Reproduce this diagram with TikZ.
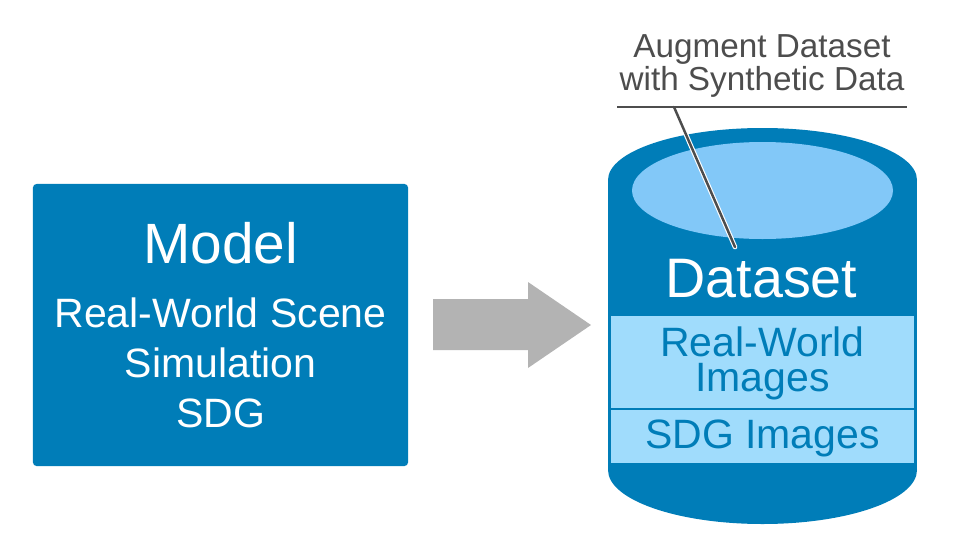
\documentclass[tikz,border=0pt]{standalone}
\usepackage{fontspec}
\setmainfont{Liberation Sans}
\usetikzlibrary{positioning,calc}
\definecolor{dellblue}{HTML}{007DB8}
\definecolor{lidblue}{HTML}{82C8F8}
\definecolor{bandblue}{HTML}{A0DCFC}
\definecolor{notegray}{HTML}{4D4D4D}
\definecolor{arrowgray}{HTML}{B3B3B3}

\begin{document}
\begin{tikzpicture}[x=0.03cm, y=-0.03cm,
   modelbox/.style={fill=dellblue, rounded corners=3pt, inner sep=0pt,
      minimum width=11.25cm, minimum height=8.46cm},
   band/.style={fill=bandblue, draw=dellblue, line width=0.9pt, inner sep=0pt,
      minimum width=9.15cm},
   whitetext/.style={text=white, anchor=base, inner sep=0pt},
   bandtext/.style={text=dellblue, anchor=base, inner sep=0pt,
      font=\fontsize{35}{29.9}\selectfont},
   notetext/.style={text=notegray, anchor=base, inner sep=0pt,
      font=\fontsize{28.4}{29}\selectfont}]
   \useasboundingbox (0,0) rectangle (954,558);

   % model box
   \node[modelbox] (model) at (220.5,325) {};
   \node[whitetext, font=\fontsize{48.5}{50}\selectfont] (modeltitle) at (220.5,263) {Model};
   \node[whitetext, font=\fontsize{35}{36}\selectfont] (scene) at (220.5,327) {Real-World Scene};
   \node[whitetext, font=\fontsize{35}{36}\selectfont] (sim) at (220.5,377) {Simulation};
   \node[whitetext, font=\fontsize{35}{36}\selectfont] (sdg) at (220.5,427) {SDG};

   % big arrow
   \fill[arrowgray] (433,299) -- (528,299) -- (528,282) -- (591,325)
      -- (528,368) -- (528,350) -- (433,350) -- cycle;

   % dataset cylinder
   \fill[dellblue] (608,180) rectangle (917,470);
   \fill[dellblue] (762.5,470) ellipse [x radius=154.5, y radius=54];
   \fill[dellblue] (762.5,180) ellipse [x radius=154.5, y radius=52];
   \fill[lidblue] (762.5,190.5) ellipse [x radius=130.5, y radius=48.5];
   \node[whitetext, font=\fontsize{47.5}{49}\selectfont] (dataset) at (761.5,297) {Dataset};
   \node[band, minimum height=2.82cm] (realband) at (762.5,362) {};
   \node[band, minimum height=1.65cm] (sdgband) at (762.5,436.5) {};
   \node[bandtext, anchor=north, align=center] (realtxt) at (762.5,327) {Real-World\\Images};
   \node[bandtext] (sdgtxt) at (762.5,448) {SDG Images};

   % callout
   \node[notetext] (augment) at (762,57) {Augment Dataset};
   \node[notetext] (synth) at (762,90) {with Synthetic Data};
   \coordinate (ulleft) at (617,107);
   \coordinate (ulright) at (907,107);
   \coordinate (leadtop) at (674,107);
   \coordinate (leadend) at (735,247);
   \draw[white, line width=4pt, line cap=round] (leadtop) -- (leadend);
   \draw[notegray, line width=2.1pt, line cap=round] (leadtop) -- (leadend);
   \draw[notegray, line width=2.2pt] (ulleft) -- (ulright);
\end{tikzpicture}
\end{document}
